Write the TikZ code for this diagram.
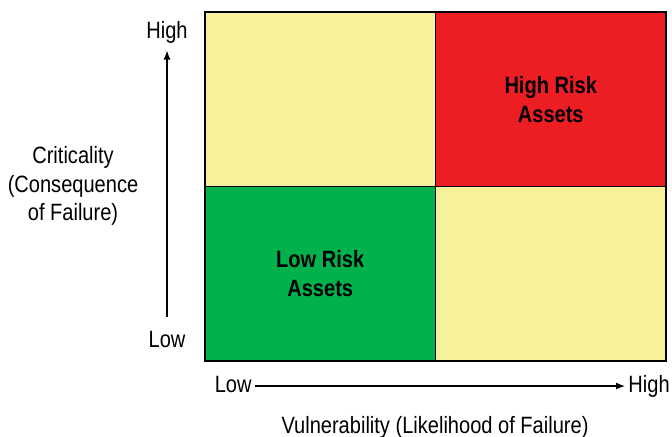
\documentclass[tikz,border=0pt]{standalone}
\usepackage{fontspec}
\setmainfont{Liberation Sans}[FakeStretch=0.85]
\usetikzlibrary{arrows.meta,positioning}
\definecolor{riskyel}{RGB}{248,241,155}
\definecolor{riskred}{RGB}{237,29,36}
\definecolor{riskgrn}{RGB}{0,177,76}

\begin{document}
\begin{tikzpicture}[
x=0.5pt,y=-0.5pt,
node distance=0pt,
cell/.style={draw,line width=0.7pt,outer sep=0pt,minimum width=115.25pt,minimum height=87.25pt,align=center,font=\fontsize{11.8}{14.4}\selectfont\bfseries},
lbl/.style={inner sep=0pt,text height=8.6pt,text depth=2.5pt,font=\fontsize{11.8}{14.4}\selectfont},
arr/.style={-{Latex[length=4.5pt,width=3.5pt]},line width=0.6pt}
]
\useasboundingbox (0,0) rectangle (672,436);
\node[cell,fill=riskyel,anchor=north west] (hilo) at (205,12) {};
\node[cell,fill=riskred,right=of hilo] (hihi) {High Risk\\Assets};
\node[cell,fill=riskgrn,below=of hilo] (lolo) {Low Risk\\Assets};
\node[cell,fill=riskyel,right=of lolo] (lohi) {};

\node[lbl] (yhigh) at (167,32) {High};
\node[lbl] (ylow) at (167,341) {Low};
\node[align=center,inner sep=0pt,font=\fontsize{11.8}{14.4}\selectfont] (crit) at (73,186) {Criticality\\(Consequence\\of Failure)};
\draw[arr,shorten <=6.5pt,shorten >=3.5pt] (ylow)--(yhigh);

\node[lbl,anchor=east] (xlow) at (252,386) {Low};
\node[lbl,anchor=west] (xhigh) at (628,386) {High};
\node[lbl] (vuln) at (435,427) {Vulnerability (Likelihood of Failure)};
\draw[arr,shorten <=1.5pt,shorten >=1.5pt] (xlow)--(xhigh);
\end{tikzpicture}
\end{document}
